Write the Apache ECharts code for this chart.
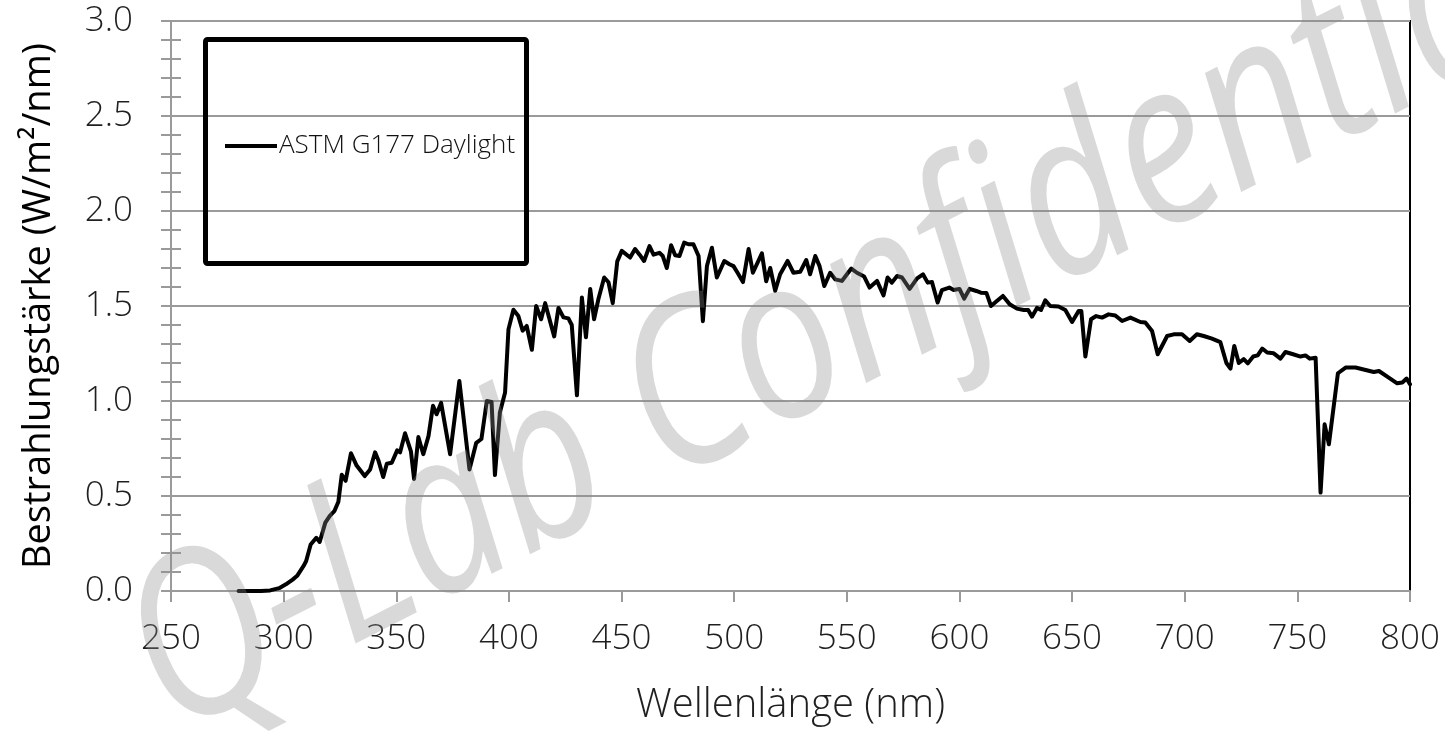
<!DOCTYPE html>
<html>
<head>
<meta charset="utf-8">
<script src="https://cdn.jsdelivr.net/npm/echarts@6/dist/echarts.min.js"></script>
<style>
  html, body { margin: 0; padding: 0; background: #ffffff; }
  #chart { width: 1445px; height: 731px; }
</style>
</head>
<body>
<div id="chart"></div>
<script>
// Spectral irradiance of the ASTM G177 daylight reference spectrum
const wavelengths = [
  280, 285, 290, 294, 298, 301, 304, 306, 309, 310,
  312, 314.5, 316, 318.5, 320.5, 322.5, 324.3, 325.8, 327.5, 329.9,
  332.4, 336, 338.4, 340.6, 342, 344.2, 345.8, 348, 350.4, 351.7,
  353.9, 356.5, 357.9, 359.8, 362, 364.3, 366.3, 367.9, 369.9, 373.9,
  378, 382.5, 385.5, 387.8, 390.2, 392.3, 393.8, 396, 398.3, 399.8,
  402, 404.2, 406.1, 407.9, 410.2, 412.1, 414.3, 416.1, 420.1, 422,
  424.2, 426.4, 427.9, 430.2, 432.4, 434.2, 436.1, 437.8, 439.7, 442.3,
  444.2, 446.1, 448.1, 450.1, 453.8, 456, 458, 460, 462.4, 464.2,
  466.8, 468.3, 470.1, 472, 473.8, 475.7, 477.8, 479.7, 481.9, 484.2,
  486.1, 487.9, 490.1, 492.3, 495.6, 497.9, 499.7, 501.5, 503.9, 506.4,
  508.3, 512.3, 514.2, 516, 518.2, 520.4, 523.7, 526.3, 529.3, 532,
  533.7, 536, 537.9, 540, 542.6, 544.9, 547.8, 552, 554.5, 557.7,
  560.1, 563.4, 566.3, 568.1, 570, 572.3, 574.5, 577.9, 581.2, 583.8,
  585.9, 587.8, 590.3, 592.2, 595.5, 597.4, 600, 602.1, 604.5, 607.5,
  609.5, 612, 614, 616.6, 619.3, 622.3, 625.5, 628.5, 630.5, 632.2,
  634.4, 636.2, 638.1, 640.3, 644, 647, 650, 652.9, 654.1, 655.9,
  658.4, 660.7, 663.3, 666.2, 669.2, 672.2, 675.9, 680.3, 682.5, 685.5,
  688, 692.2, 695.1, 698.8, 702.2, 705.4, 708.4, 712.1, 715.8, 718.5,
  720.3, 722, 724, 726.2, 728, 730.4, 732.4, 734.4, 736.6, 739.5,
  742.5, 744.7, 748.1, 751.4, 753.6, 755.5, 758.1, 760.3, 762.1, 764,
  768, 771.4, 775.8, 780.3, 783.9, 786.2, 789.9, 794.3, 796.6, 798.5,
  800
];
const irradiance = [
  0.000, 0.000, 0.000, 0.003, 0.015, 0.035, 0.060, 0.080, 0.135, 0.158,
  0.245, 0.280, 0.258, 0.360, 0.395, 0.420, 0.470, 0.612, 0.580, 0.725,
  0.660, 0.605, 0.640, 0.730, 0.690, 0.600, 0.670, 0.675, 0.740, 0.730,
  0.830, 0.735, 0.590, 0.810, 0.720, 0.815, 0.975, 0.930, 0.990, 0.720,
  1.105, 0.640, 0.780, 0.800, 1.000, 0.995, 0.610, 0.940, 1.045, 1.377,
  1.480, 1.447, 1.370, 1.395, 1.270, 1.500, 1.430, 1.515, 1.340, 1.490,
  1.440, 1.435, 1.400, 1.030, 1.545, 1.335, 1.590, 1.430, 1.535, 1.650,
  1.625, 1.515, 1.735, 1.790, 1.755, 1.800, 1.770, 1.737, 1.815, 1.770,
  1.780, 1.763, 1.700, 1.820, 1.767, 1.763, 1.834, 1.825, 1.825, 1.763,
  1.420, 1.710, 1.807, 1.650, 1.737, 1.720, 1.710, 1.675, 1.626, 1.800,
  1.675, 1.777, 1.630, 1.700, 1.580, 1.667, 1.737, 1.675, 1.680, 1.742,
  1.667, 1.763, 1.710, 1.605, 1.675, 1.640, 1.632, 1.697, 1.675, 1.655,
  1.597, 1.632, 1.556, 1.650, 1.623, 1.658, 1.650, 1.590, 1.645, 1.667,
  1.623, 1.626, 1.518, 1.584, 1.597, 1.584, 1.590, 1.539, 1.590, 1.579,
  1.570, 1.568, 1.500, 1.526, 1.553, 1.509, 1.486, 1.479, 1.479, 1.444,
  1.490, 1.479, 1.530, 1.500, 1.497, 1.479, 1.416, 1.474, 1.474, 1.234,
  1.430, 1.447, 1.439, 1.456, 1.450, 1.421, 1.439, 1.416, 1.413, 1.368,
  1.246, 1.342, 1.351, 1.351, 1.316, 1.351, 1.342, 1.328, 1.310, 1.200,
  1.170, 1.290, 1.200, 1.220, 1.198, 1.234, 1.240, 1.276, 1.255, 1.251,
  1.223, 1.258, 1.246, 1.234, 1.240, 1.223, 1.228, 0.518, 0.877, 0.772,
  1.146, 1.176, 1.176, 1.163, 1.153, 1.158, 1.128, 1.093, 1.097, 1.118,
  1.088
];
const seriesName = 'ASTM G177 Daylight';
const xAxisTitle = 'Wellenlänge (nm)';
const yAxisTitle = 'Bestrahlungstärke (W/m²/nm)';
const watermarkText = 'Q-Lab Confidential';

const points = wavelengths.map((w, i) => [w, irradiance[i]]);

const FONT = '"Open Sans", "Noto Sans", sans-serif';
const AXIS_GRAY = '#9a9a9a';
const LABEL_COLOR = '#1f1f1f';

const chart = echarts.init(document.getElementById('chart'), null, { renderer: 'canvas' });

chart.setOption({
  animation: false,
  backgroundColor: '#ffffff',
  grid: {
    left: 171, top: 21, width: 1239, height: 571,
    show: true, borderColor: '#000000', borderWidth: 2, backgroundColor: 'transparent'
  },
  legend: {
    left: 225, top: 133,
    itemWidth: 52, itemHeight: 4, itemGap: 0,
    icon: 'rect',
    padding: 0,
    textStyle: { fontFamily: FONT, fontSize: 26, fontWeight: 300, color: '#111111', padding: [0, 0, 0, -3] },
    data: [seriesName]
  },
  xAxis: {
    type: 'value',
    min: 250, max: 800, interval: 50,
    name: xAxisTitle,
    nameLocation: 'middle',
    nameGap: 95,
    nameTextStyle: { fontFamily: FONT, fontSize: 40, fontWeight: 300, color: LABEL_COLOR },
    axisLine: { show: true, onZero: false, lineStyle: { color: AXIS_GRAY, width: 2 } },
    axisTick: { show: true, length: 11, lineStyle: { color: AXIS_GRAY, width: 2 } },
    axisLabel: { fontFamily: FONT, fontSize: 35, fontWeight: 300, color: LABEL_COLOR, margin: 31 },
    splitLine: { show: false }
  },
  yAxis: [
    {
      type: 'value',
      min: 0, max: 3, interval: 0.5,
      name: yAxisTitle,
      nameLocation: 'middle',
      nameGap: 113,
      nameTextStyle: { fontFamily: FONT, fontSize: 38, fontWeight: 400, color: '#000000' },
      axisLine: { show: true, lineStyle: { color: AXIS_GRAY, width: 2 } },
      axisTick: { show: true, length: 10, lineStyle: { color: AXIS_GRAY, width: 2 } },
      minorTick: { show: true, splitNumber: 5, length: 10, lineStyle: { color: AXIS_GRAY, width: 2 } },
      axisLabel: {
        fontFamily: FONT, fontSize: 35, fontWeight: 300, color: LABEL_COLOR, margin: 38,
        formatter: v => v.toFixed(1)
      },
      splitLine: { show: true, lineStyle: { color: AXIS_GRAY, width: 2 } }
    },
    {
      // inner half of the crossing ticks on the left axis
      type: 'value',
      position: 'left',
      min: 0, max: 3, interval: 0.1,
      axisLine: { show: false },
      axisTick: { show: true, inside: true, length: 10, lineStyle: { color: AXIS_GRAY, width: 2 } },
      axisLabel: { show: false },
      splitLine: { show: false }
    }
  ],
  series: [
    {
      name: seriesName,
      type: 'line',
      data: points,
      showSymbol: false,
      symbol: 'none',
      lineStyle: { color: '#000000', width: 4, join: 'round', cap: 'round' },
      itemStyle: { color: '#000000' },
      z: 3
    }
  ],
  graphic: [
    {
      type: 'rect',
      left: 203, top: 37,
      shape: { width: 321, height: 224, r: 2 },
      style: { fill: 'rgba(255,255,255,0)', stroke: '#000000', lineWidth: 5 },
      z: 5
    },
    {
      type: 'text',
      x: 843, y: 322,
      rotation: 27 * Math.PI / 180,
      scaleX: 1.0, scaleY: 1.2,
      style: {
        text: watermarkText,
        fontFamily: FONT,
        fontSize: 190,
        fontStyle: 'italic',
        fill: 'rgba(140,140,140,0.33)',
        align: 'center',
        verticalAlign: 'middle'
      },
      z: 100
    }
  ]
});
</script>
</body>
</html>
